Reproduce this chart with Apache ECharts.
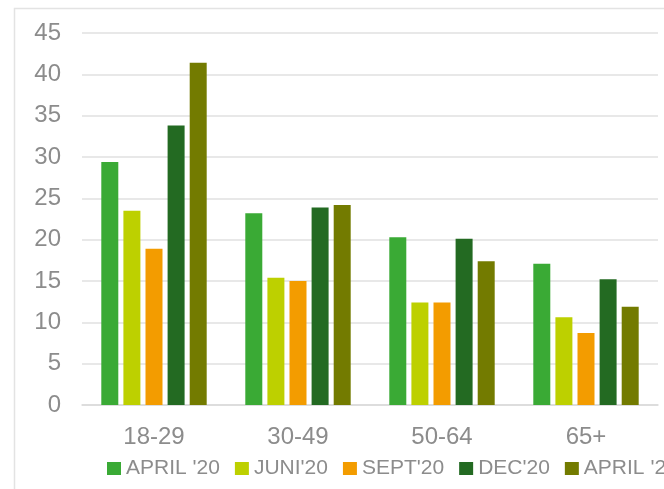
<!DOCTYPE html>
<html>
<head>
<meta charset="utf-8">
<script src="https://cdn.jsdelivr.net/npm/echarts@6/dist/echarts.min.js"></script>
<style>html,body{margin:0;padding:0;background:#fff}#c{width:664px;height:489px}</style>
</head>
<body>
<div id="c"></div>
<script>
const categories = ['18-29', '30-49', '50-64', '65+'];
const seriesNames = ["APRIL '20", "JUNI'20", "SEPT'20", "DEC'20", "APRIL '21"];
const april20 = [29.4, 23.2, 20.3, 17.1];
const juni20 = [23.5, 15.4, 12.4, 10.6];
const sept20 = [18.9, 15.0, 12.4, 8.7];
const dec20 = [33.8, 23.9, 20.1, 15.2];
const april21 = [41.4, 24.2, 17.4, 11.9];
const colors = ['#3aaa35', '#bdd000', '#f39c00', '#236a22', '#737b00'];
const yTicks = [0, 5, 10, 15, 20, 25, 30, 35, 40, 45];

const values = [april20, juni20, sept20, dec20, april21];
const font = 'Liberation Sans, Arial, sans-serif';
const txt = '#8c8c8c';

const chart = echarts.init(document.getElementById('c'));
chart.setOption({
  animation: false,
  color: colors,
  graphic: [{
    type: 'rect', silent: true, z: -1,
    shape: { x: 14.5, y: 8.5, width: 700, height: 520 },
    style: { fill: 'none', stroke: '#e3e3e3', lineWidth: 1.5 }
  }],
  grid: { left: 82, right: 6, top: 33, bottom: 84, containLabel: false },
  legend: {
    left: 102, top: 453, width: 1200,
    icon: 'rect', itemWidth: 14, itemHeight: 13, itemGap: 15,
    textStyle: { color: txt, fontSize: 21, fontFamily: font },
    data: seriesNames
  },
  xAxis: {
    type: 'category', data: categories,
    axisLine: { lineStyle: { color: '#d9d9d9', width: 1.5 } },
    axisTick: { show: false },
    axisLabel: { color: txt, fontSize: 24, fontFamily: font, margin: 20 }
  },
  yAxis: {
    type: 'value', min: yTicks[0], max: yTicks[yTicks.length - 1], interval: 5,
    axisLine: { show: false }, axisTick: { show: false },
    axisLabel: { color: txt, fontSize: 24, fontFamily: font, margin: 21 },
    splitLine: { lineStyle: { color: '#e0e0e0', width: 1.5 } }
  },
  series: seriesNames.map((n, i) => ({
    name: n, type: 'bar', data: values[i],
    barWidth: 17, barGap: '30%', barCategoryGap: '27%',
    itemStyle: { color: colors[i] }
  }))
});
</script>
</body>
</html>
